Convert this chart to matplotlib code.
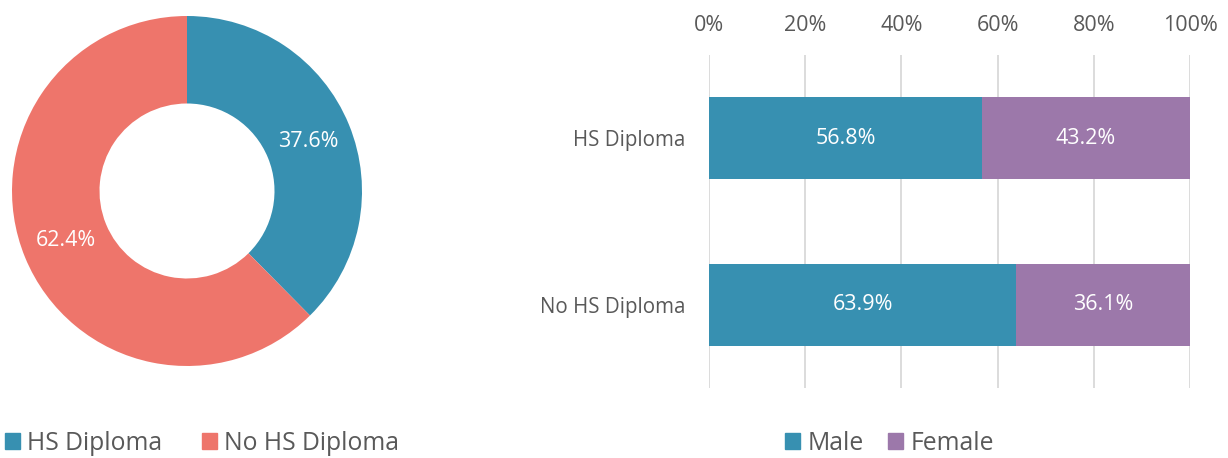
import matplotlib
matplotlib.use("Agg")
import matplotlib.pyplot as plt
from matplotlib.patches import Patch

plt.rcParams['font.family'] = ['Open Sans', 'DejaVu Sans']

# Data
pie_labels = ["HS Diploma", "No HS Diploma"]
pie_values = [37.6, 62.4]
bar_categories = ["HS Diploma", "No HS Diploma"]
male_values = [56.8, 63.9]
female_values = [43.2, 36.1]
xtick_values = [0, 20, 40, 60, 80, 100]

TEAL = "#3790B1"
SALMON = "#EE756B"
PURPLE = "#9C78AA"
TXT = "#595959"

W, H = 1228, 458
fig = plt.figure(figsize=(W / 100, H / 100), dpi=100)

# Donut
cx, cy, r = 187, 191, 175
ax1 = fig.add_axes([(cx - r) / W, 1 - (cy + r) / H, 2 * r / W, 2 * r / H])
wedges, texts, autotexts = ax1.pie(
    pie_values, colors=[TEAL, SALMON], startangle=90, counterclock=False,
    radius=1.0, wedgeprops=dict(width=0.5, linewidth=0),
    autopct=lambda p: f"{p:.1f}%", pctdistance=0.75,
    textprops=dict(color="white", fontsize=15.5))
ax1.set_xlim(-1, 1)
ax1.set_ylim(-1, 1)
ax1.set_aspect("equal")
ax1.axis("off")

fig.legend(handles=[Patch(color=TEAL, label=pie_labels[0]),
                    Patch(color=SALMON, label=pie_labels[1])],
           loc="center left", bbox_to_anchor=(5 / W, 1 - 443 / H), ncol=2,
           frameon=False, fontsize=17.8, labelcolor=TXT,
           handlelength=0.6, handleheight=0.6, handletextpad=0.3,
           columnspacing=1.6, borderaxespad=0, borderpad=0)

# Stacked bar
x0, x1, y0, y1 = 709, 1190, 55, 388
ax2 = fig.add_axes([x0 / W, 1 - y1 / H, (x1 - x0) / W, (y1 - y0) / H])
ypos = list(range(len(bar_categories)))
ax2.barh(ypos, male_values, height=0.49, color=TEAL, zorder=2)
ax2.barh(ypos, female_values, left=male_values, height=0.49, color=PURPLE, zorder=2)
for i in ypos:
    ax2.text(male_values[i] / 2, i, f"{male_values[i]:.1f}%", ha="center", va="center",
             color="white", fontsize=15.5)
    ax2.text(male_values[i] + female_values[i] / 2, i, f"{female_values[i]:.1f}%",
             ha="center", va="center", color="white", fontsize=15.5)
ax2.set_xlim(0, 100)
ax2.set_ylim(len(bar_categories) - 0.5, -0.5)
ax2.set_yticks(ypos)
ax2.set_yticklabels(bar_categories, fontsize=14.8, color=TXT)
ax2.set_xticks(xtick_values)
ax2.set_xticklabels([f"{v}%" for v in xtick_values], fontsize=15.5, color=TXT)
ax2.xaxis.tick_top()
ax2.tick_params(axis="both", length=0)
ax2.tick_params(axis="x", pad=14)
ax2.tick_params(axis="y", pad=17)
ax2.grid(axis="x", color="#D9D9D9", linewidth=1.3, zorder=0)
for s in ax2.spines.values():
    s.set_visible(False)

fig.legend(handles=[Patch(color=TEAL, label="Male"),
                    Patch(color=PURPLE, label="Female")],
           loc="center left", bbox_to_anchor=(785 / W, 1 - 443 / H), ncol=2,
           frameon=False, fontsize=17.8, labelcolor=TXT,
           handlelength=0.6, handleheight=0.6, handletextpad=0.3,
           columnspacing=1.0, borderaxespad=0, borderpad=0)

fig.savefig("out.png", dpi=100, facecolor="white")
